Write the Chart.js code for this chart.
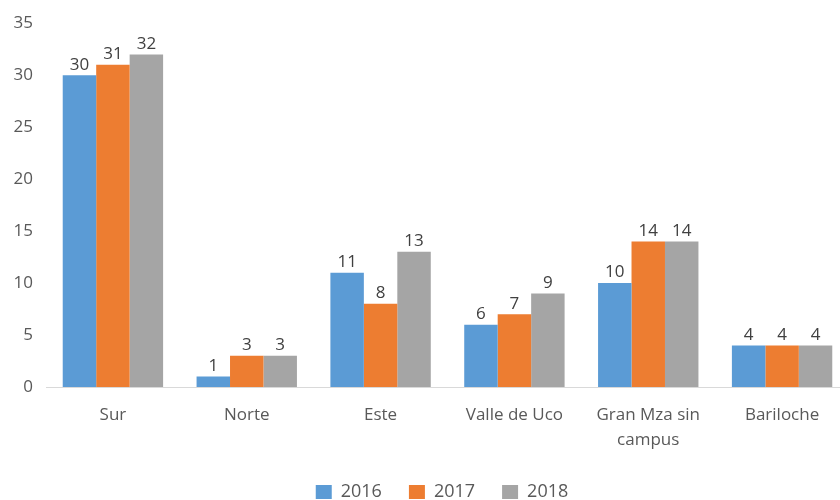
<!DOCTYPE html>
<html>
<head>
<meta charset="utf-8">
<script src="https://cdn.jsdelivr.net/npm/chart.js@4.4.0/dist/chart.umd.min.js"></script>
<style>
  html, body { margin: 0; padding: 0; background: #fff; overflow: hidden; }
  #wrap { width: 888px; height: 500px; }
</style>
</head>
<body>
<div id="wrap"><canvas id="chart"></canvas></div>
<script>
const categories = ['Sur', 'Norte', 'Este', 'Valle de Uco', ['Gran Mza sin', 'campus'], 'Bariloche'];
const years = ['2016', '2017', '2018'];
const values2016 = [30, 1, 11, 6, 10, 4];
const values2017 = [31, 3, 8, 7, 14, 4];
const values2018 = [32, 3, 13, 9, 14, 4];
const colors = ['#5B9BD5', '#ED7D31', '#A5A5A5'];

const FONT = "'Open Sans', 'Noto Sans', sans-serif";
const TEXT = '#595959';

// draws the value above each bar, like Excel data labels
const barLabels = {
  id: 'barLabels',
  afterDatasetsDraw(chart) {
    const ctx = chart.ctx;
    ctx.save();
    ctx.font = `17px ${FONT}`;
    ctx.fillStyle = '#404040';
    ctx.textAlign = 'center';
    ctx.textBaseline = 'bottom';
    chart.data.datasets.forEach((ds, i) => {
      chart.getDatasetMeta(i).data.forEach((bar, j) => {
        ctx.fillText(String(ds.data[j]), bar.x, bar.y - 2);
      });
    });
    ctx.restore();
  }
};

// keep the legend row close to the bottom edge, centred like the original
const legendBox = {
  id: 'legendBox',
  beforeInit(chart) {
    const lg = chart.legend;
    if (!lg) return;
    const fit = lg.fit;
    lg.fit = function() { fit.call(this); this.height = 44; };
  },
  afterLayout(chart) {
    const lg = chart.legend;
    if (!lg) return;
    lg.left = 35;
    lg.width = lg.right - lg.left;
  }
};

new Chart(document.getElementById('chart'), {
  type: 'bar',
  data: {
    labels: categories,
    datasets: [
      { label: years[0], data: values2016, backgroundColor: colors[0] },
      { label: years[1], data: values2017, backgroundColor: colors[1] },
      { label: years[2], data: values2018, backgroundColor: colors[2] }
    ]
  },
  options: {
    responsive: true, maintainAspectRatio: false, animation: false,
    layout: { padding: { top: 22, right: 39, bottom: 0, left: 0 } },
    datasets: { bar: { categoryPercentage: 0.75, barPercentage: 1.0 } },
    plugins: {
      legend: {
        position: 'bottom',
        labels: {
          font: { family: FONT, size: 18 }, color: TEXT,
          boxWidth: 16, boxHeight: 14, padding: 27
        }
      },
      tooltip: { enabled: false }
    },
    scales: {
      x: {
        grid: { display: false, drawTicks: false },
        border: { display: true, color: '#D9D9D9', width: 1 },
        ticks: { font: { family: FONT, size: 17, lineHeight: 1.45 }, color: TEXT, padding: 16, maxRotation: 0, autoSkip: false },
        afterFit: (s) => { s.height = 69; }
      },
      y: {
        min: 0, max: 35,
        grid: { display: false, drawTicks: false },
        border: { display: false },
        ticks: { stepSize: 5, font: { family: FONT, size: 17 }, color: TEXT, padding: 13 },
        afterFit: (s) => { s.width = 46; }
      }
    }
  },
  plugins: [barLabels, legendBox]
});
</script>
</body>
</html>
